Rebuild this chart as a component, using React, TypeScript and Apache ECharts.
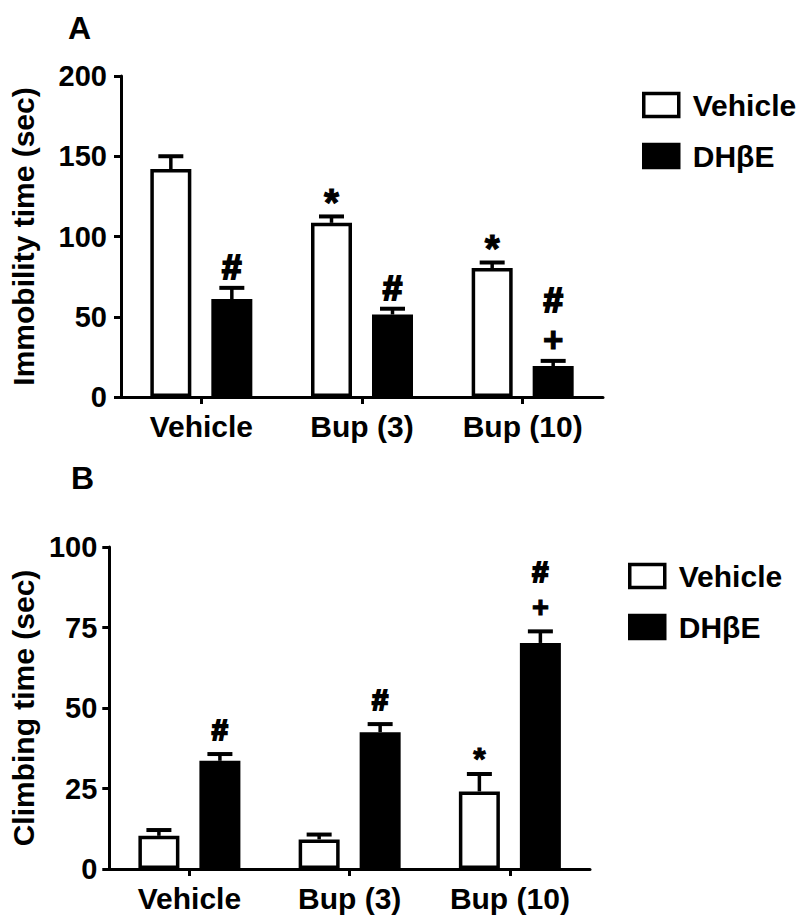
import React, { useEffect, useRef } from "react";
import * as echarts from "echarts";

const categories = ["Vehicle", "Bup (3)", "Bup (10)"];

// Panel A: Immobility time (sec)
const immobilityVehicle = [142, 108.5, 80.3];
const immobilityVehicleErr = [8, 4, 3.5];
const immobilityDHbE = [61, 51.4, 19.3];
const immobilityDHbEErr = [7, 3.6, 3.2];
const immobilityVehicleMarks = [[], ["*"], ["*"]];
const immobilityDHbEMarks = [["#"], ["#"], ["+", "#"]];
const immobilityTicks = { min: 0, max: 200, interval: 50 };

// Panel B: Climbing time (sec)
const climbingVehicle = [10.3, 9.2, 24.1];
const climbingVehicleErr = [1.8, 1.5, 5.4];
const climbingDHbE = [33.6, 42.5, 70.2];
const climbingDHbEErr = [2.1, 2.5, 3.6];
const climbingVehicleMarks = [[], [], ["*"]];
const climbingDHbEMarks = [["#"], ["#"], ["+", "#"]];
const climbingTicks = { min: 0, max: 100, interval: 25 };

const seriesNames = ["Vehicle", "DH\u03b2E"];

const FONT = '"Liberation Sans", Arial, Helvetica, sans-serif';
const BAR_W = 41;
const GAP_PX = 20;
const OFFSET = (BAR_W + GAP_PX) / 2;

function errSeries(
  name: string,
  values: number[],
  errs: number[],
  marks: string[][],
  side: number,
  gridIdx: number,
  fs: number,
  firstOff: number,
  stepOff: number
) {
  return {
    type: "custom",
    name: name + "-err",
    xAxisIndex: gridIdx,
    yAxisIndex: gridIdx,
    z: 10,
    silent: true,
    data: values.map((v, i) => [i, v, errs[i]]),
    renderItem: (params: any, api: any) => {
      const i = api.value(0);
      const v = api.value(1);
      const e = api.value(2);
      const top = api.coord([i, v + e]);
      const base = api.coord([i, v]);
      const x = top[0] + side * OFFSET;
      const children: any[] = [
        {
          type: "line",
          shape: { x1: x, y1: base[1], x2: x, y2: top[1] },
          style: { stroke: "#000", lineWidth: 3.5 },
        },
        {
          type: "line",
          shape: { x1: x - 12.5, y1: top[1], x2: x + 12.5, y2: top[1] },
          style: { stroke: "#000", lineWidth: 4 },
        },
      ];
      const m = marks[params.dataIndex] || [];
      m.forEach((sym, k) => {
        const size = sym === "*" ? fs * 1.1 : fs;
        const y = top[1] - firstOff - k * stepOff + (sym === "*" ? size * 0.22 : 0);
        children.push({
          type: "text",
          x,
          y,
          style: {
            text: sym,
            fill: "#000",
            stroke: "#000",
            lineWidth: sym === "#" ? 2 : 1,
            fontWeight: "bold",
            fontSize: size,
            fontFamily: FONT,
            align: "center",
            verticalAlign: "middle",
          },
        });
      });
      return { type: "group", children };
    },
  };
}

function barSeries(name: string, values: number[], gridIdx: number, fill: string) {
  return {
    type: "bar",
    name,
    xAxisIndex: gridIdx,
    yAxisIndex: gridIdx,
    barWidth: BAR_W,
    barGap: (GAP_PX / BAR_W) * 100 + "%",
    data: values,
    itemStyle: { color: fill, borderColor: "#000", borderWidth: 3.5 },
  };
}

const axisLine = { show: true, lineStyle: { color: "#000", width: 3 } };
const axisTick = { show: true, length: 7, lineStyle: { color: "#000", width: 3 } };
const labelStyle = { color: "#000", fontWeight: "bold", fontSize: 29, fontFamily: FONT };

function xAxis(gridIndex: number) {
  return {
    type: "category",
    gridIndex,
    data: categories,
    axisLine,
    axisTick: { ...axisTick, alignWithLabel: true },
    axisLabel: { ...labelStyle, fontSize: 30, margin: 14 },
    splitLine: { show: false },
  };
}

function yAxis(gridIndex: number, ticks: any, name: string, nameGap: number, margin: number) {
  return {
    type: "value",
    gridIndex,
    min: ticks.min,
    max: ticks.max,
    interval: ticks.interval,
    name,
    nameLocation: "middle",
    nameRotate: 90,
    nameGap,
    nameTextStyle: { ...labelStyle, fontSize: 30 },
    axisLine,
    axisTick,
    axisLabel: { ...labelStyle, margin },
    splitLine: { show: false },
  };
}

function legend(left: number, top: number) {
  return {
    data: seriesNames,
    orient: "vertical",
    left,
    top,
    icon: "rect",
    itemWidth: 35,
    itemHeight: 23,
    itemGap: 21,
    selectedMode: false,
    itemStyle: { borderColor: "#000", borderWidth: 3.5 },
    textStyle: { ...labelStyle, fontSize: 30, padding: [0, 0, 0, 9] },
  };
}

export default function App() {
  const ref = useRef<HTMLDivElement>(null);
  useEffect(() => {
    document.body.style.margin = "0";
    if (!ref.current) return;
    const chart = echarts.init(ref.current, undefined, { renderer: "svg" });
    chart.setOption({
      animation: false,
      backgroundColor: "#fff",
      title: [
        { text: "A", left: 63, top: 7, textStyle: { color: "#000", fontWeight: "bold", fontSize: 32, fontFamily: FONT } },
        { text: "B", left: 66, top: 457, textStyle: { color: "#000", fontWeight: "bold", fontSize: 32, fontFamily: FONT } },
      ],
      legend: [legend(637, 85), legend(623, 556)],
      grid: [
        { left: 119, top: 76, width: 484, height: 321 },
        { left: 104, top: 547, width: 486, height: 322 },
      ],
      xAxis: [xAxis(0), xAxis(1)],
      yAxis: [
        yAxis(0, immobilityTicks, "Immobility time (sec)", 83, 14),
        yAxis(1, climbingTicks, "Climbing time (sec)", 70, 12),
      ],
      series: [
        barSeries(seriesNames[0], immobilityVehicle, 0, "#fff"),
        barSeries(seriesNames[1], immobilityDHbE, 0, "#000"),
        barSeries(seriesNames[0], climbingVehicle, 1, "#fff"),
        barSeries(seriesNames[1], climbingDHbE, 1, "#000"),
        errSeries(seriesNames[0], immobilityVehicle, immobilityVehicleErr, immobilityVehicleMarks, -1, 0, 35, 22, 40),
        errSeries(seriesNames[1], immobilityDHbE, immobilityDHbEErr, immobilityDHbEMarks, 1, 0, 35, 21, 40),
        errSeries(seriesNames[0], climbingVehicle, climbingVehicleErr, climbingVehicleMarks, -1, 1, 29, 22, 35),
        errSeries(seriesNames[1], climbingDHbE, climbingDHbEErr, climbingDHbEMarks, 1, 1, 29, 24, 35),
      ],
    });
    return () => chart.dispose();
  }, []);
  return <div ref={ref} style={{ width: 800, height: 922 }} />;
}
